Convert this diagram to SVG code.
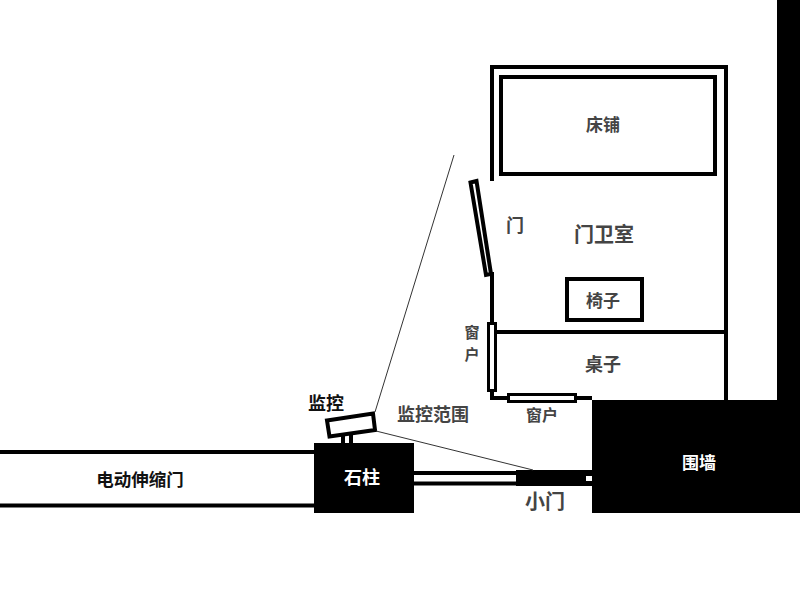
<svg xmlns="http://www.w3.org/2000/svg" width="800" height="600" viewBox="0 0 800 600">
<style>
text{font-family:"Noto Sans CJK SC","Liberation Sans",sans-serif;font-weight:700;text-anchor:middle;dominant-baseline:central;fill:#444}
.w{fill:#fff}
.k{fill:#111}
.box{fill:#fff;stroke:#000;stroke-width:4}
.thin{fill:#fff;stroke:#000;stroke-width:3}
.wall{fill:none;stroke:#000;stroke-width:4}
.sight{fill:none;stroke:#333;stroke-width:1}
</style>
<rect width="800" height="600" fill="#fff"/>
<g id="walls">
<rect x="777" y="0" width="23" height="401" fill="#000"/>
<path class="wall" d="M492 181V67H726V400"/>
<path class="wall" d="M492 272V398H592"/>
<path class="wall" d="M495 332H726"/>
</g>
<g id="bed"><rect class="box" x="501" y="77" width="214" height="97"/><text x="603" y="123" font-size="17">床铺</text></g>
<g id="door"><path class="box" stroke-width="3" d="M470.500 182.500L476.500 181L491 274L486 275Z"/><text x="515" y="224" font-size="18">门</text></g>
<g id="guardroom"><text x="604" y="233" font-size="20">门卫室</text></g>
<g id="chair"><rect class="box" x="567" y="279" width="75" height="41"/><text x="603" y="299" font-size="17">椅子</text></g>
<g id="desk"><text x="603" y="363" font-size="18">桌子</text></g>
<g id="window-left"><rect class="thin" x="488.500" y="323.500" width="7" height="67"/><text x="472" y="331" font-size="15">窗</text><text x="472" y="353" font-size="15">户</text></g>
<g id="window-bottom"><rect class="thin" x="508.500" y="394.500" width="67" height="7"/><text x="542" y="414" font-size="16">窗户</text></g>
<g id="boundary-wall"><rect x="592" y="400" width="208" height="113" fill="#000"/><text class="w" x="699" y="461" font-size="17">围墙</text></g>
<g id="electric-gate"><path class="wall" d="M0 452H314M0 505.500H314"/><text class="k" x="140" y="478" font-size="17.500">电动伸缩门</text></g>
<g id="pillar"><rect x="314" y="443" width="100" height="70" fill="#000"/><text class="w" x="362" y="476" font-size="18">石柱</text></g>
<g id="small-gate">
<path class="wall" d="M414 473H516M414 483.500H516"/>
<rect x="516" y="470" width="76" height="16" fill="#000"/>
<rect x="586" y="476" width="6" height="5" fill="#fff"/>
<text x="545" y="500" font-size="20">小门</text>
</g>
<g id="camera">
<path class="box" d="M327 420.500L373 413.500L375 430L329.500 436.500Z"/>
<path class="wall" stroke-width="3" d="M343 436V443M351 434V443"/>
<text class="k" x="326" y="402" font-size="18">监控</text>
</g>
<g id="connectors">
<path class="sight" d="M375 412L454 155"/>
<path class="sight" d="M376 431L533 470"/>
</g>
<g id="range-label"><text x="433" y="413" font-size="18">监控范围</text></g>
</svg>
